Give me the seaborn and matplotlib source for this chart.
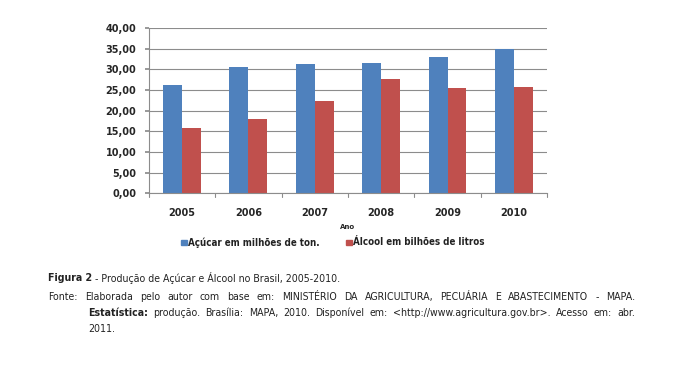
import pandas as pd
import matplotlib
matplotlib.use("Agg")
import matplotlib.pyplot as plt
import seaborn as sns

# dados
anos = ["2005", "2006", "2007", "2008", "2009", "2010"]
acucar = [26.1, 30.6, 31.3, 31.5, 33.0, 35.0]
alcool = [15.8, 17.9, 22.4, 27.6, 25.6, 25.8]
series = ["Açúcar em milhões de ton.", "Álcool em bilhões de litros"]
cores = ["#4F81BD", "#C0504D"]

df = pd.DataFrame({
    "Ano": anos * 2,
    "valor": acucar + alcool,
    "serie": [series[0]] * len(anos) + [series[1]] * len(anos),
})

sns.set_theme(style="white")
plt.rcParams["font.family"] = ["DejaVu Sans"]

fig = plt.figure(figsize=(6.73, 3.70), dpi=100)
ax = fig.add_axes([0.221, 0.478, 0.592, 0.446])

sns.barplot(data=df, x="Ano", y="valor", hue="serie", palette=cores,
            width=0.57, saturation=1, linewidth=0, ax=ax, legend=False)

ax.set_ylim(0, 40)
ax.set_yticks(range(0, 41, 5))
ax.set_yticklabels([f"{v:.2f}".replace(".", ",") for v in range(0, 41, 5)],
                   fontsize=7, fontweight="bold")
ax.set_xticks(range(len(anos)))
ax.set_xticklabels(anos, fontsize=7, fontweight="bold")
ax.set_xlim(-0.5, len(anos) - 0.5)
ax.yaxis.grid(True, color="#8c8c8c", linewidth=0.8)
ax.set_axisbelow(True)
ax.set_xlabel("Ano", fontsize=5, fontweight="bold", labelpad=4)
ax.set_ylabel("")
for s in ["top", "right"]:
    ax.spines[s].set_visible(False)
for s in ["left", "bottom"]:
    ax.spines[s].set_color("#8c8c8c")
    ax.spines[s].set_linewidth(0.8)
ax.tick_params(axis="y", left=True, length=3, color="#8c8c8c", pad=6)
ax.tick_params(axis="x", bottom=False, pad=5)
# marcas do eixo x entre as categorias
for xb in [i - 0.5 for i in range(len(anos) + 1)]:
    ax.plot([xb, xb], [0, -0.9], color="#8c8c8c", lw=0.8, clip_on=False)

# legenda
for xs, cor, nome in [(0.269, cores[0], series[0]), (0.514, cores[1], series[1])]:
    fig.patches.append(plt.Rectangle((xs, 0.337), 0.0085, 0.0155, color=cor,
                                     transform=fig.transFigure, figure=fig))
    fig.text(xs + 0.010, 0.345, nome, fontsize=7, fontweight="bold",
             fontstretch="condensed", va="center", color="#222222")

# legenda da figura
cap_fs = 7.6
fam = "DejaVu Sans"
fig.canvas.draw()
r = fig.canvas.get_renderer()


def escreve(x, y, texto, peso="normal"):
    return fig.text(x, y, texto, fontsize=cap_fs, fontweight=peso, family=fam,
                    fontstretch="condensed", va="center", color="#222222")


def largura(texto, peso="normal"):
    t = escreve(0, 0, texto, peso)
    w = t.get_window_extent(r).width
    t.remove()
    return w


def linha_justificada(palavras, x0, x1, y):
    # palavras: lista de (texto, peso)
    W = fig.bbox.width
    ws = [largura(p, k) for p, k in palavras]
    gap = ((x1 - x0) * W - sum(ws)) / (len(palavras) - 1)
    x = x0 * W
    for (p, k), w in zip(palavras, ws):
        escreve(x / W, y, p, k)
        x += w + gap


t1 = escreve(0.0715, 0.248, "Figura 2", "bold")
w1 = t1.get_window_extent(r).width / fig.bbox.width
escreve(0.0715 + w1, 0.248, " - Produção de Açúcar e Álcool no Brasil, 2005-2010.")

l1 = "Fonte: Elaborada pelo autor com base em: MINISTÉRIO DA AGRICULTURA, PECUÁRIA E ABASTECIMENTO - MAPA."
linha_justificada([(p, "normal") for p in l1.split(" ")], 0.0715, 0.944, 0.197)

l2 = [("Estatística:", "bold")] + [(p, "normal") for p in
      "produção. Brasília: MAPA, 2010. Disponível em: <http://www.agricultura.gov.br>. Acesso em: abr.".split(" ")]
linha_justificada(l2, 0.131, 0.944, 0.155)

escreve(0.131, 0.112, "2011.")

fig.savefig("out.png", dpi=100, facecolor="white")
